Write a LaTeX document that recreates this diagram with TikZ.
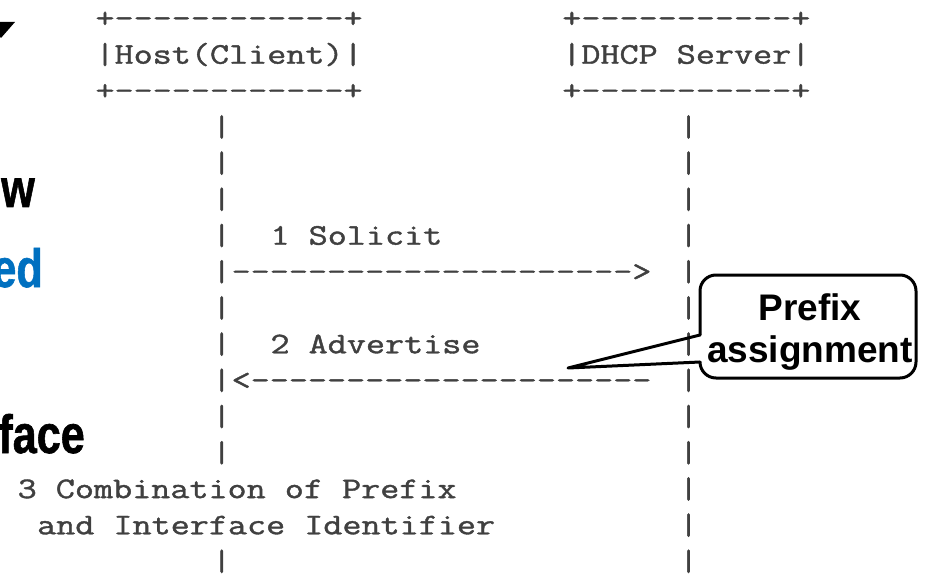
\documentclass[tikz,border=0pt]{standalone}
\usepackage{fontspec}
\usepackage{graphicx}
\newfontfamily\monof{Latin Modern Mono}[FakeBold=1.2]
\newfontfamily\sansf{Liberation Sans}
\newfontfamily\sansbf{Liberation Sans Bold}[FakeBold=1.2]
\definecolor{slideblue}{HTML}{0070C0}
\definecolor{asciigray}{gray}{0.25}
\tikzset{
  mono/.style={inner sep=0pt, anchor=base west, text=asciigray,
    font=\monof\fontsize{30}{36}\selectfont},
  frag/.style={inner sep=0pt, anchor=base east,
    font=\sansbf\fontsize{54}{60}\selectfont},
  calloutline/.style={line width=3pt, line cap=round, line join=round},
  callouttext/.style={font=\sansf\bfseries\fontsize{37}{42}\selectfont,
    align=center, inner sep=0pt}
}
\newcommand\dsh[1]{\foreach\k in {1,...,#1}{\mbox{-}}}
\newcommand\asc[4]{\node[mono] (#1) at ({95.3+19.45*(#2)},{27.5+36.2*(#3)}) {\scalebox{1.235}[1]{#4}};}
\begin{document}
\begin{tikzpicture}[x=1pt,y=-1pt]
\useasboundingbox (0,0) rectangle (927,575);
\clip (0,0) rectangle (927,575);
% host box
\asc{hbt}{0}{0}{+\dsh{12}+}
\asc{hbm}{0}{1}{|Host(Client)|}
\asc{hbb}{0}{2}{+\dsh{12}+}
% server box
\asc{sbt}{24}{0}{+\dsh{11}+}
\asc{sbm}{24}{1}{|DHCP Server|}
\asc{sbb}{24}{2}{+\dsh{11}+}
% lifelines
\foreach \r in {3,4,5,6,7,8,9,10,11,12,15} {\asc{hl\r}{6}{\r}{|}}
\foreach \r in {3,4,5,6,7,8,9,10,11,12,13,14,15} {\asc{sl\r}{30}{\r}{|}}
% messages
\asc{m1}{9}{6}{1 Solicit}
\asc{a1}{7}{7}{\dsh{21}>}
\asc{m2}{9}{9}{2 Advertise}
\asc{a2}{7}{10}{<\dsh{21}}
\asc{m3a}{-4}{13}{3 Combination of Prefix}
\asc{m3b}{-3}{14}{and Interface Identifier}
% callout
\node[callouttext, anchor=north] (pa) at (810,293) {Prefix\\assignment};
\draw[calloutline, rounded corners=16pt] (700,335) -- (700,275) -- (916,275) -- (916,378) -- (700,378) -- (700,362);
\draw[calloutline] (700,335) -- (568,368) -- (700,362);
% cut-off slide text on the left
\fill (0,22) -- (15,22) -- (1,38) -- (0,37) -- cycle;
\node[frag] (fw) at (35,207) {\scalebox{0.8}[1]{w}};
\node[frag, text=slideblue] (fed) at (43,287) {\scalebox{0.8}[1]{ed}};
\node[frag] (fface) at (85,453) {\scalebox{0.8}[1]{face}};
\end{tikzpicture}
\end{document}
